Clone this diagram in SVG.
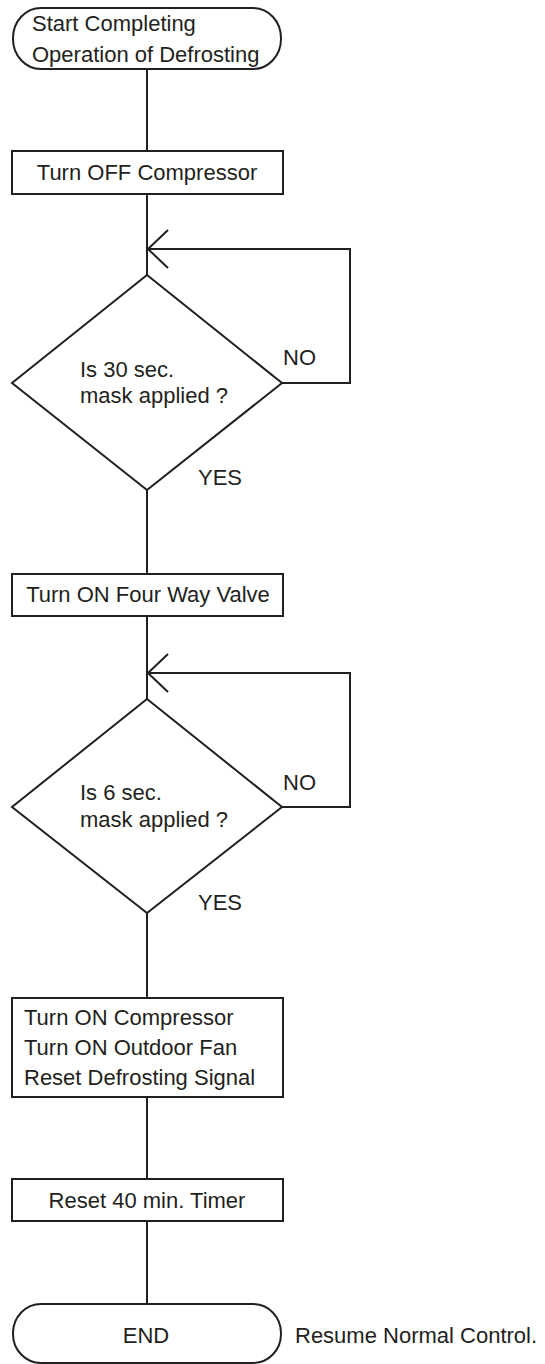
<svg xmlns="http://www.w3.org/2000/svg" width="545" height="1364" viewBox="0 0 545 1364">
  <style>
    .shape { fill: #ffffff; stroke: #231f20; stroke-width: 2; }
    .wire { fill: none; stroke: #231f20; stroke-width: 2; }
    text { font-family: "Liberation Sans", Arial, sans-serif; font-size: 22px; fill: #231f20; }
    .mid { text-anchor: middle; }
  </style>
  <defs>
    <!-- open V arrowhead, tip at the end of the path -->
    <marker id="openArrow" viewBox="0 0 24 42" refX="22" refY="21" markerWidth="24" markerHeight="42" markerUnits="userSpaceOnUse" orient="auto">
      <path d="M 2 2 L 22 21 L 2 40" fill="none" stroke="#231f20" stroke-width="2"/>
    </marker>
  </defs>
  <rect width="545" height="1364" fill="#ffffff"/>

  <!-- connectors -->
  <g id="connectors">
    <line class="wire" x1="147" y1="69" x2="147" y2="151"/>
    <line class="wire" x1="147" y1="194" x2="147" y2="275"/>
    <path class="wire" d="M 282 383 L 350 383 L 350 249 L 148 249" marker-end="url(#openArrow)"/>
    <line class="wire" x1="147" y1="490" x2="147" y2="574"/>
    <line class="wire" x1="147" y1="616" x2="147" y2="699"/>
    <path class="wire" d="M 282 807 L 350 807 L 350 673 L 148 673" marker-end="url(#openArrow)"/>
    <line class="wire" x1="147" y1="913" x2="147" y2="998"/>
    <line class="wire" x1="147" y1="1097" x2="147" y2="1179"/>
    <line class="wire" x1="147" y1="1221" x2="147" y2="1304"/>
  </g>

  <g id="start">
    <rect class="shape" x="13" y="8" width="268" height="61" rx="28" ry="30"/>
    <text x="32" y="31">Start Completing</text>
    <text x="32" y="62">Operation of Defrosting</text>
  </g>

  <g id="compressor-off">
    <rect class="shape" x="12" y="151" width="271" height="43"/>
    <text class="mid" x="147" y="180">Turn OFF Compressor</text>
  </g>

  <g id="mask30">
    <polygon class="shape" points="147,275 282,383 147,490 12,383"/>
    <text x="80" y="377">Is 30 sec.</text>
    <text x="80" y="403">mask applied ?</text>
    <text x="283" y="365">NO</text>
    <text x="198" y="485">YES</text>
  </g>

  <g id="valve-on">
    <rect class="shape" x="12" y="574" width="271" height="42"/>
    <text class="mid" x="148" y="602">Turn ON Four Way Valve</text>
  </g>

  <g id="mask6">
    <polygon class="shape" points="147,699 282,807 147,913 12,807"/>
    <text x="80" y="800">Is 6 sec.</text>
    <text x="80" y="827">mask applied ?</text>
    <text x="283" y="790">NO</text>
    <text x="198" y="910">YES</text>
  </g>

  <g id="restart">
    <rect class="shape" x="12" y="998" width="271" height="99"/>
    <text x="24" y="1025">Turn ON Compressor</text>
    <text x="24" y="1055">Turn ON Outdoor Fan</text>
    <text x="24" y="1085">Reset Defrosting Signal</text>
  </g>

  <g id="timer-reset">
    <rect class="shape" x="12" y="1179" width="271" height="42"/>
    <text class="mid" x="147" y="1208">Reset 40 min. Timer</text>
  </g>

  <g id="end">
    <rect class="shape" x="13" y="1304" width="268" height="59" rx="28" ry="29"/>
    <text class="mid" x="146" y="1343">END</text>
    <text x="295" y="1343">Resume Normal Control.</text>
  </g>
</svg>
